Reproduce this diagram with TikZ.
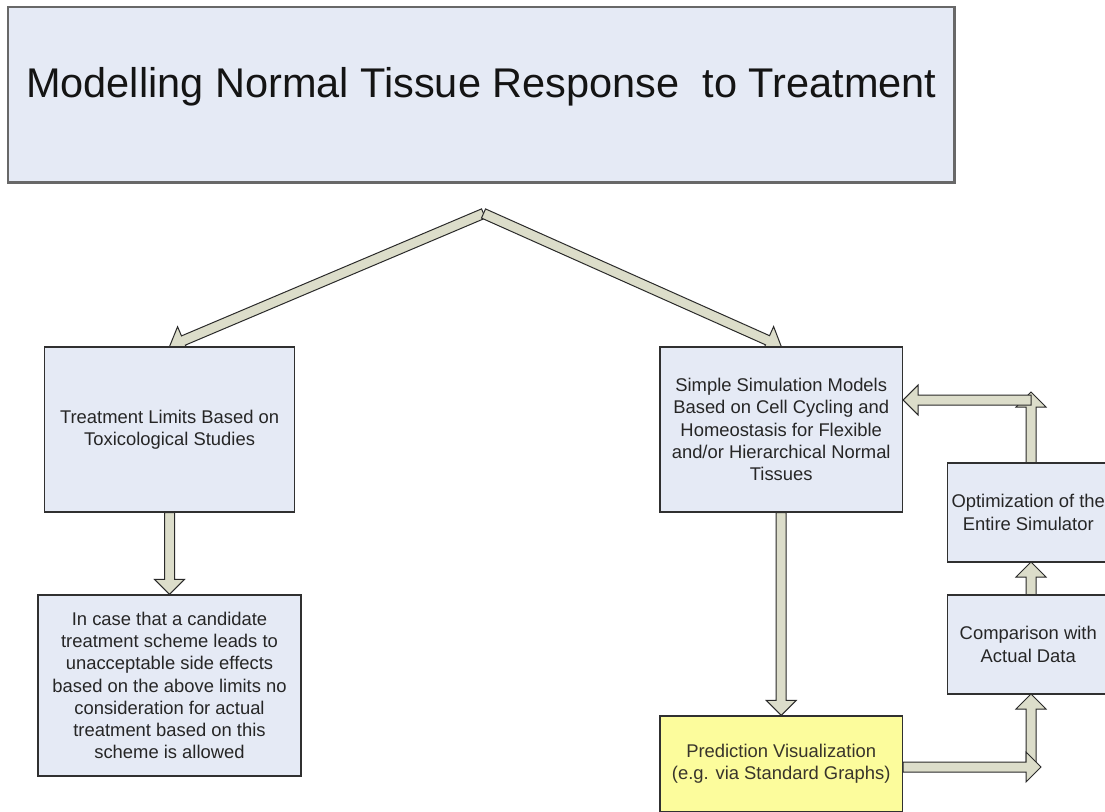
\documentclass[tikz,border=0pt]{standalone}
\usepackage{fontspec}
\setmainfont{Liberation Sans}
\usetikzlibrary{calc}

\definecolor{boxfill}{HTML}{E5EAF5}
\definecolor{boxline}{HTML}{303030}
\definecolor{titleline}{HTML}{686868}
\definecolor{arrowfill}{HTML}{DCDDCA}
\definecolor{arrowline}{HTML}{2A2A2A}
\definecolor{notefill}{HTML}{FCFC9C}
\definecolor{inktext}{HTML}{262626}

\pgfdeclarelayer{paper}
\pgfdeclarelayer{arrows}
\pgfsetlayers{paper,arrows,main}

\tikzset{
  box/.style={draw=boxline, line width=1.3pt, fill=boxfill, inner sep=0pt,
    align=center, text=inktext, font=\fontsize{18.4}{22.2}\selectfont},
  titlebox/.style={box, draw=titleline, line width=2.4pt, text=black!92,
    font=\fontsize{41.5}{48}\selectfont, text height=30pt, text depth=25.5pt},
  notebox/.style={box, fill=notefill, text=black!80!olive},
  fatarrow/.style={draw=arrowline, fill=arrowfill, line width=1pt, line join=miter}
}

% wide block arrow from #1 to #2 (shaft 10, head 30 wide and 15 long)
\newcommand{\blockarrow}[2]{%
  \path ($(#2)!15pt!(#1)$) coordinate (bahead);
  \draw[fatarrow] ($(#1)!5pt!90:(#2)$) -- ($(bahead)!5pt!90:(#2)$)
    -- ($(bahead)!15pt!90:(#2)$) -- (#2) -- ($(bahead)!15pt!-90:(#2)$)
    -- ($(bahead)!5pt!-90:(#2)$) -- ($(#1)!5pt!-90:(#2)$) -- cycle;}

\begin{document}
\begin{tikzpicture}[x=1pt,y=-1pt]
\useasboundingbox (0,0) rectangle (1105,811);
\clip (0,0) rectangle (1105,811);
\begin{pgfonlayer}{paper}
\fill[white] (0,0) rectangle (1105,811);
\end{pgfonlayer}

\path
  (481.25,94.75) node[titlebox, minimum width=946.5pt, minimum height=175.5pt] (title)
    {Modelling Normal Tissue Response~ to Treatment}
  (169.6,429.5) node[box, minimum width=250pt, minimum height=165pt] (limits)
    {Treatment Limits Based on\\Toxicological Studies}
  (169.5,685.5) node[box, minimum width=263pt, minimum height=181pt] (incase)
    {In case that a candidate\\treatment scheme leads to\\unacceptable side effects\\based on the above limits no\\consideration for actual\\treatment based on this\\scheme is allowed}
  (781.2,429.5) node[box, minimum width=242.4pt, minimum height=165pt] (simple)
    {Simple Simulation Models\\Based on Cell Cycling and\\Homeostasis for Flexible\\and/or Hierarchical Normal\\Tissues}
  (781.2,764) node[notebox, minimum width=242.4pt, minimum height=96pt] (predict)
    {Prediction Visualization\\(e.g. via Standard Graphs)}
  (1028.25,644.5) node[box, minimum width=161.5pt, minimum height=99pt] (compare)
    {Comparison with\\Actual Data}
  (1028.25,512.5) node[box, minimum width=161.5pt, minimum height=99pt] (optim)
    {Optimization of the\\Entire Simulator};

% junction points of the connectors
\coordinate (apex) at (483.5,213.5);
\coordinate (pout) at ([yshift=-3pt]predict.east);
\coordinate (bcorner) at (pout -| 1041,0);
\coordinate (bstart) at (1031,762);
\coordinate (cin) at (1031,694);
\coordinate (cout) at (1031,595);
\coordinate (oin) at (1031,562);
\coordinate (oout) at (1031,463);
\coordinate (tcorner) at (1031,392);
\coordinate (tstart) at (1031,400);
\coordinate (sin) at (simple.east |- tstart);

% connectors, kept beneath the boxes
\begin{pgfonlayer}{arrows}
\blockarrow{apex}{limits.north}
\blockarrow{apex}{simple.north}
\blockarrow{limits.south}{incase.north}
\blockarrow{simple.south}{predict.north}
\blockarrow{bstart}{cin}
\blockarrow{pout}{bcorner}
\blockarrow{cout}{oin}
\blockarrow{oout}{tcorner}
\blockarrow{tstart}{sin}
\end{pgfonlayer}
\end{tikzpicture}
\end{document}
